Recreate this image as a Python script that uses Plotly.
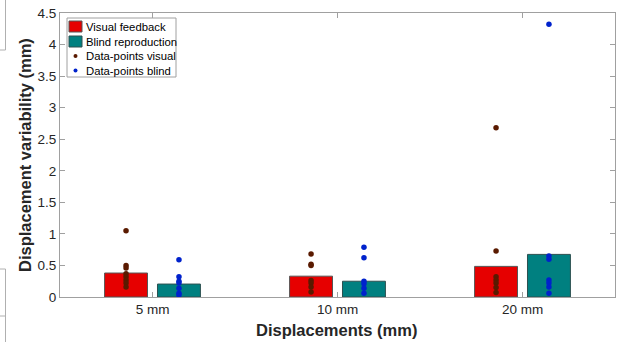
import plotly.graph_objects as go

categories = ["5 mm", "10 mm", "20 mm"]
visual_means = [0.38, 0.33, 0.485]
blind_means = [0.205, 0.25, 0.675]
visual_points = [
    [1.05, 0.50, 0.46, 0.37, 0.32, 0.27, 0.22, 0.16],
    [0.68, 0.52, 0.50, 0.26, 0.22, 0.16, 0.08],
    [2.68, 0.73, 0.32, 0.27, 0.22, 0.15, 0.07],
]
blind_points = [
    [0.59, 0.32, 0.25, 0.22, 0.14, 0.06, 0.03],
    [0.79, 0.62, 0.25, 0.21, 0.14, 0.06],
    [4.32, 0.65, 0.60, 0.27, 0.22, 0.16, 0.06],
]
y_ticks = [0, 0.5, 1, 1.5, 2, 2.5, 3, 3.5, 4, 4.5]
legend_labels = ["Visual feedback", "Blind reproduction", "Data-points visual", "Data-points blind"]

W, H = 619, 342
L, R, T, B = 60, 4, 13, 45
PW, PH = W - L - R, H - T - B


def px(x):
    return (x - L) / PW


def py(y):
    return (H - B - y) / PH


pos = [1, 2, 3]
off = 0.143
bw = 0.232
font = "Liberation Sans, Arial, sans-serif"
tc = "#262626"
red, teal, brown, blue = "#E60000", "#008080", "#5a1a00", "#0022cc"

fig = go.Figure()
fig.add_trace(go.Bar(x=[p - off for p in pos], y=visual_means, width=bw,
                     name=legend_labels[0], marker=dict(color=red, line=dict(color="#555555", width=1))))
fig.add_trace(go.Bar(x=[p + off for p in pos], y=blind_means, width=bw,
                     name=legend_labels[1], marker=dict(color=teal, line=dict(color="#2d5050", width=1))))
vx, vy, bx, by = [], [], [], []
for i, p in enumerate(pos):
    vx += [p - off] * len(visual_points[i]); vy += visual_points[i]
    bx += [p + off] * len(blind_points[i]); by += blind_points[i]
fig.add_trace(go.Scatter(x=vx, y=vy, mode="markers", name=legend_labels[2],
                         marker=dict(color=brown, size=5.5)))
fig.add_trace(go.Scatter(x=bx, y=by, mode="markers", name=legend_labels[3],
                         marker=dict(color=blue, size=5.5)))

axis_common = dict(showline=True, linecolor="#a0a0a0", linewidth=1, mirror="ticks",
                   ticks="inside", ticklen=5, tickcolor="#a0a0a0", showgrid=False, zeroline=False,
                   automargin=False, tickfont=dict(family=font, size=13.5, color=tc))
fig.update_layout(
    width=W, height=H,
    margin=dict(l=L, r=R, t=T, b=B),
    plot_bgcolor="white", paper_bgcolor="white",
    showlegend=False,
    xaxis=dict(range=[0.5, 3.5], tickvals=pos, ticktext=categories, **axis_common),
    yaxis=dict(range=[0, 4.5], tickvals=y_ticks, ticktext=[f"{t:g}" for t in y_ticks], **axis_common),
)
fig.add_annotation(text="<b>Displacements (mm)</b>", xref="paper", yref="paper",
                   x=px(336.5), y=py(330), showarrow=False, xanchor="center", yanchor="middle",
                   font=dict(family=font, size=16.5, color=tc))
fig.add_annotation(text="<b>Displacement variability (mm)</b>", xref="paper", yref="paper",
                   x=px(25), y=py(155), showarrow=False, xanchor="center", yanchor="middle",
                   textangle=-90, font=dict(family=font, size=16.5, color=tc))

# manual legend box
fig.add_shape(type="rect", xref="paper", yref="paper", x0=px(67), x1=px(176), y0=py(18), y1=py(77),
              line=dict(color="#a0a0a0", width=1), fillcolor="white")
rows = [26.5, 41.5, 56, 70.5]
fig.add_shape(type="rect", xref="paper", yref="paper", x0=px(69), x1=px(82), y0=py(21), y1=py(32),
              line=dict(color="#555555", width=1), fillcolor=red)
fig.add_shape(type="rect", xref="paper", yref="paper", x0=px(69), x1=px(82), y0=py(36), y1=py(47),
              line=dict(color="#2d5050", width=1), fillcolor=teal)
for yy, col in [(rows[2], brown), (rows[3], blue)]:
    fig.add_shape(type="circle", xref="paper", yref="paper", x0=px(73.5), x1=px(77.5),
                  y0=py(yy - 2), y1=py(yy + 2), line=dict(color=col, width=0), fillcolor=col)
for yy, lab in zip(rows, legend_labels):
    fig.add_annotation(text=lab, xref="paper", yref="paper", x=px(83.5), y=py(yy), showarrow=False,
                       xanchor="left", yanchor="middle", font=dict(family=font, size=11.3, color="black"))

# stray frame fragments at the left edge
g = dict(color="#b0b0b0", width=1)
for (x0, y0, x1, y1) in [(5.5, 0, 5.5, 50), (0, 50, 5.5, 50), (5.5, 269, 5.5, 342),
                         (0, 269, 5.5, 269), (0, 316, 5.5, 316)]:
    fig.add_shape(type="line", xref="paper", yref="paper", x0=px(x0), x1=px(x1), y0=py(y0), y1=py(y1), line=g)
fig.write_html("out.html", config={"displayModeBar": False},
               post_script="document.body.style.margin='0';document.body.style.overflow='hidden';")
